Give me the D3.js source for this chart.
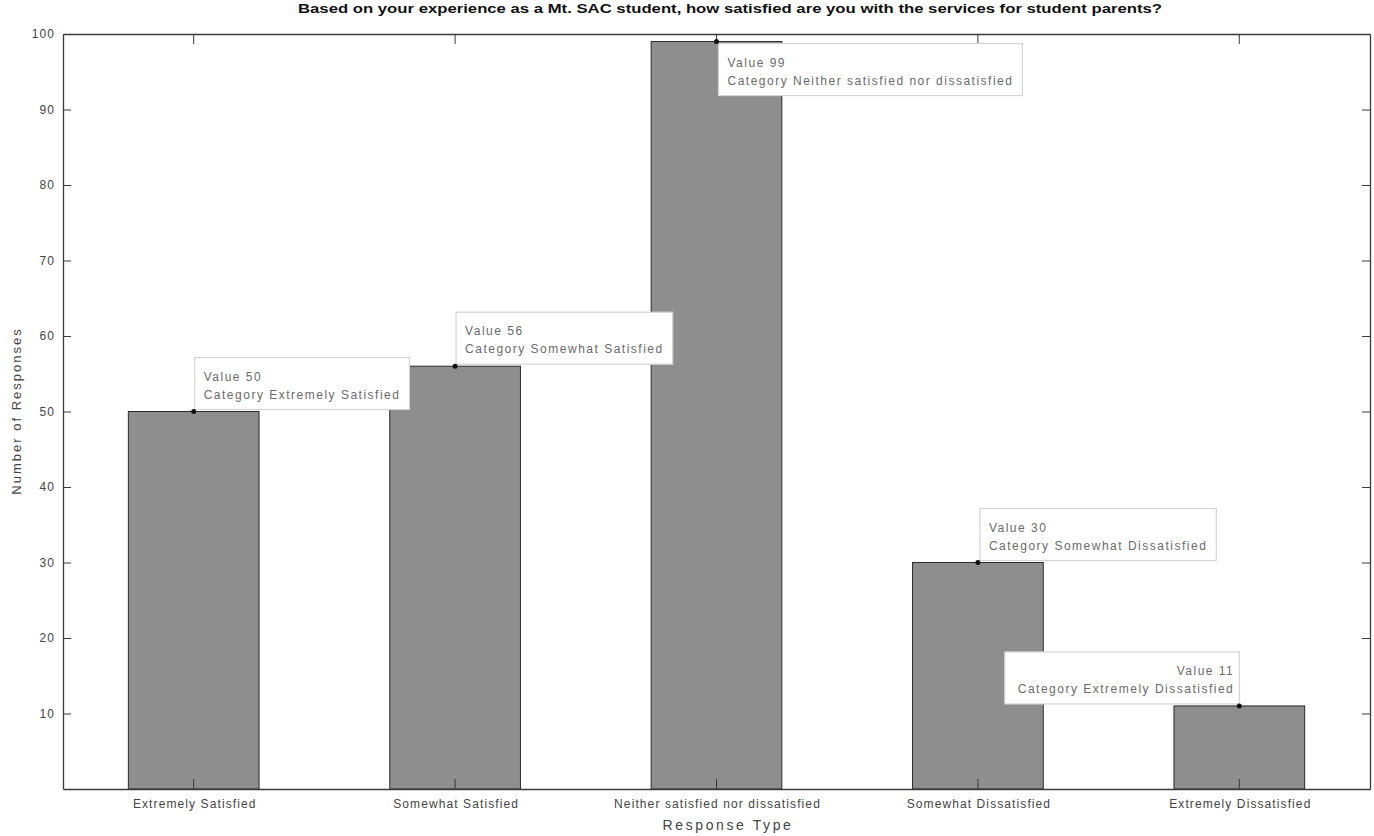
<!DOCTYPE html>
<html><head><meta charset="utf-8">
<script src="https://cdn.jsdelivr.net/npm/d3@7"></script>
<style>body{margin:0;background:#fff}svg{display:block}text{font-family:"Liberation Sans",Arial,sans-serif}</style>
</head><body>
<svg id="c" width="1374" height="836"></svg>
<script>
const categories = ["Extremely Satisfied","Somewhat Satisfied","Neither satisfied nor dissatisfied","Somewhat Dissatisfied","Extremely Dissatisfied"];
const values = [50, 56, 99, 30, 11];
const yTicks = [10,20,30,40,50,60,70,80,90,100];
const titleText = "Based on your experience as a Mt. SAC student, how satisfied are you with the services for student parents?";
const xLabel = "Response Type";
const yLabel = "Number of Responses";

const svg = d3.select("#c");
const L = 63, R = 1370, T = 34, B = 789;
const x = d3.scaleBand().domain(categories).range([L, R]).paddingInner(0).paddingOuter(0);
const y = d3.scaleLinear().domain([0, 100]).range([B, T]);

// bars
const bw = x.bandwidth() * 0.5;
svg.append("g").selectAll("rect").data(values).join("rect")
  .attr("x", (d,i) => x(categories[i]) + x.bandwidth()/2 - bw/2)
  .attr("y", d => y(d))
  .attr("width", bw)
  .attr("height", d => y(0) - y(d))
  .attr("fill", "#8e8e8e")
  .attr("stroke", "#2a2a2a")
  .attr("stroke-width", 1);

// axes
const axCol = "#3a3a3a";
const gL = svg.append("g").attr("transform", `translate(${L},0)`)
  .call(d3.axisLeft(y).tickValues(yTicks).tickSizeInner(-8).tickSizeOuter(0).tickPadding(8));
const gR = svg.append("g").attr("transform", `translate(${R},0)`)
  .call(d3.axisRight(y).tickValues(yTicks).tickSizeInner(-8).tickSizeOuter(0).tickFormat(""));
const gB = svg.append("g").attr("transform", `translate(0,${B})`)
  .call(d3.axisBottom(x).tickSizeInner(-10).tickSizeOuter(0).tickPadding(10));
const gT = svg.append("g").attr("transform", `translate(0,${T})`)
  .call(d3.axisTop(x).tickSizeInner(-10).tickSizeOuter(0).tickFormat(""));
[gL,gR,gB,gT].forEach(g => {
  g.select(".domain").attr("stroke", axCol).attr("stroke-width", 1.3);
  g.selectAll(".tick line").attr("stroke", axCol);
  g.selectAll("text").attr("fill", "#444").style("font-size", "12px")
    .style("letter-spacing", "1.1px").style("font-family", '"Liberation Sans",Arial,sans-serif');
});
gB.selectAll("text").attr("x", 1);

// title
svg.append("text").attr("x", 298).attr("y", 13)
  .attr("textLength", 864).attr("lengthAdjust", "spacingAndGlyphs")
  .style("font-size", "12px").style("font-weight", "bold").attr("fill", "#111")
  .text(titleText);

// labels
svg.append("text").attr("x", 728).attr("y", 830).attr("text-anchor", "middle")
  .style("font-size", "14px").style("letter-spacing", "2.6px").attr("fill", "#444").text(xLabel);
svg.append("text").attr("transform", `translate(21,411) rotate(-90)`).attr("text-anchor", "middle")
  .style("font-size", "13px").style("letter-spacing", "2px").attr("fill", "#444").text(yLabel);

// data tips
const tips = [
  {i:0, below:false, align:"left",  dx:1},
  {i:1, below:false, align:"left",  dx:1},
  {i:2, below:true,  align:"left",  dx:2},
  {i:3, below:false, align:"left",  dx:2},
  {i:4, below:false, align:"right", dx:-1}
];
const tg = svg.append("g");
tips.forEach(t => {
  const px = x(categories[t.i]) + x.bandwidth()/2;
  const py = y(values[t.i]);
  const g = tg.append("g");
  const rect = g.append("rect");
  const t1 = g.append("text").style("font-size", "12px").attr("fill", "#6a6a6a").style("letter-spacing", "1.5px")
    .text("Value " + values[t.i]);
  const t2 = g.append("text").style("font-size", "12px").attr("fill", "#6a6a6a").style("letter-spacing", "1.5px")
    .text("Category " + categories[t.i]);
  const tw = Math.max(t1.node().getComputedTextLength(), t2.node().getComputedTextLength());
  const w = tw + 18, bh = 52;
  const bx = t.align === "left" ? px + t.dx : px - w + t.dx + 1;
  const by = t.below ? py + 2 : py - bh - 2;
  rect.attr("x", bx).attr("y", by).attr("width", w).attr("height", bh)
    .attr("fill", "#fff").attr("stroke", "#d4d4d4").attr("stroke-width", 1.2);
  const tx = t.align === "left" ? bx + 9 : bx + w - 5;
  const anchor = t.align === "left" ? "start" : "end";
  t1.attr("x", tx).attr("y", by + 23).attr("text-anchor", anchor);
  t2.attr("x", tx).attr("y", by + 41).attr("text-anchor", anchor);
  g.append("circle").attr("cx", px).attr("cy", py).attr("r", 2.5).attr("fill", "#111");
});
</script>
</body></html>
